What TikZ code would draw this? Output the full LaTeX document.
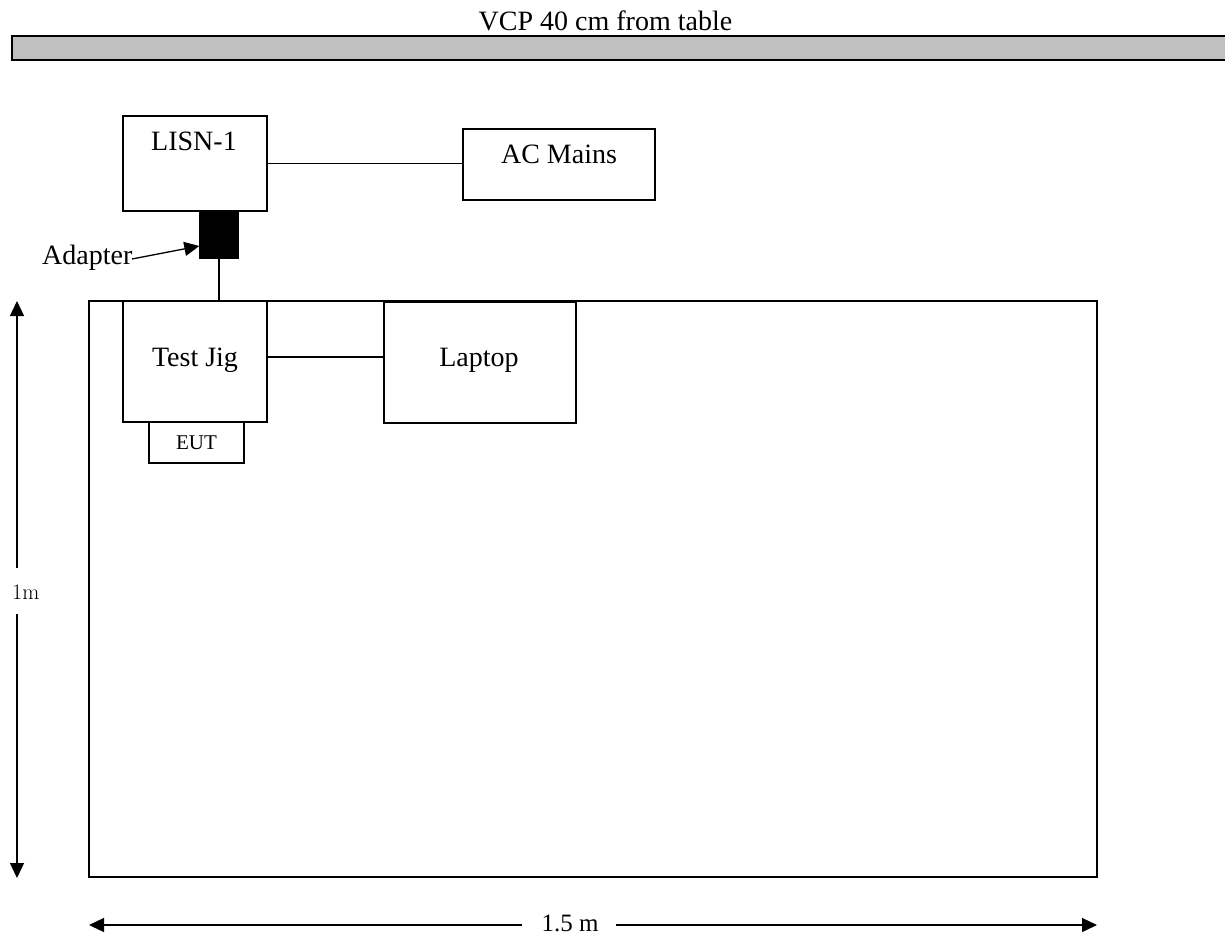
\documentclass[tikz,border=0pt]{standalone}
\usepackage{fontspec}
\setmainfont{Liberation Serif}
\newfontfamily\lmfont{Latin Modern Roman}
\usetikzlibrary{arrows.meta}
\tikzset{
  box/.style={draw, line width=1.3pt, inner sep=0pt, rectangle},
  lbl/.style={inner sep=0pt, anchor=base, font=\fontsize{28}{30}\selectfont},
  conn/.style={line width=1.3pt},
  tip/.style={-{Triangle[length=15pt,width=14pt]}, line width=1.3pt},
}
\begin{document}
\begin{tikzpicture}[x=1pt,y=-1pt]
\useasboundingbox (0,0) rectangle (1225,936);
% VCP bar
\fill[fill={rgb,255:red,192;green,192;blue,192}] (12,36) rectangle (1225,60);
\draw[line width=1.8pt] (1225,36) -- (12,36) -- (12,60) -- (1225,60);
\node[lbl] (title) at (605.5,31) {VCP 40 cm from table};
% table
\node[box, line width=1.6pt, minimum width=1008pt, minimum height=576pt] (table) at (593,589) {};
% boxes
\node[box, minimum width=144pt, minimum height=95pt] (lisn) at (195,163.5) {};
\node[lbl] (lisnt) at (194,151) {LISN-1};
\node[box, minimum width=192pt, minimum height=71pt] (ac) at (559,164.5) {};
\node[lbl] (act) at (559,164) {AC Mains};
\node[box, fill=black, minimum width=38pt, minimum height=47pt] (adapter) at (219,234.5) {};
\node[box, minimum width=144pt, minimum height=121pt] (jig) at (195,361.5) {};
\node[lbl] (jigt) at (195,366) {Test Jig};
\node[box, minimum width=192pt, minimum height=121pt] (laptop) at (480,362.5) {};
\node[lbl] (laptopt) at (479,366) {Laptop};
\node[box, minimum width=95pt, minimum height=41pt] (eut) at (196.5,442.5) {};
\node[lbl, font=\fontsize{21}{23}\selectfont] (eutt) at (196.5,449) {EUT};
% adapter label
\node[lbl, anchor=base west] (adt) at (42,264) {Adapter};
\coordinate (adstart) at (132,259);
% connectors
\draw[conn] (lisn.east) -- (lisn.east -| ac.west);
\draw[conn] (adapter.south) -- (adapter.south |- jig.north);
\draw[conn] ([yshift=4.5pt]jig.east) -- ([yshift=4.5pt]jig.east -| laptop.west);
\draw[tip] (adstart) -- ([yshift=-11.5pt]adapter.west);
% dimension 1m
\node[inner sep=0pt, anchor=west, font=\lmfont\fontsize{22}{24}\selectfont] (onem) at (12,592) {1m};
\coordinate (vmidtop) at (17,568);
\coordinate (vmidbot) at (17,614);
\coordinate (vtop) at (17,301);
\coordinate (vbot) at (17,878);
\draw[tip] (vmidtop) -- (vtop);
\draw[tip] (vmidbot) -- (vbot);
% dimension 1.5 m
\node[lbl, font=\fontsize{25}{27}\selectfont] (onehalf) at (570,931) {1.5 m};
\coordinate (hmidl) at (522,925);
\coordinate (hmidr) at (616,925);
\coordinate (hleft) at (89,925);
\coordinate (hright) at (1097,925);
\draw[tip] (hmidl) -- (hleft);
\draw[tip] (hmidr) -- (hright);
\end{tikzpicture}
\end{document}
